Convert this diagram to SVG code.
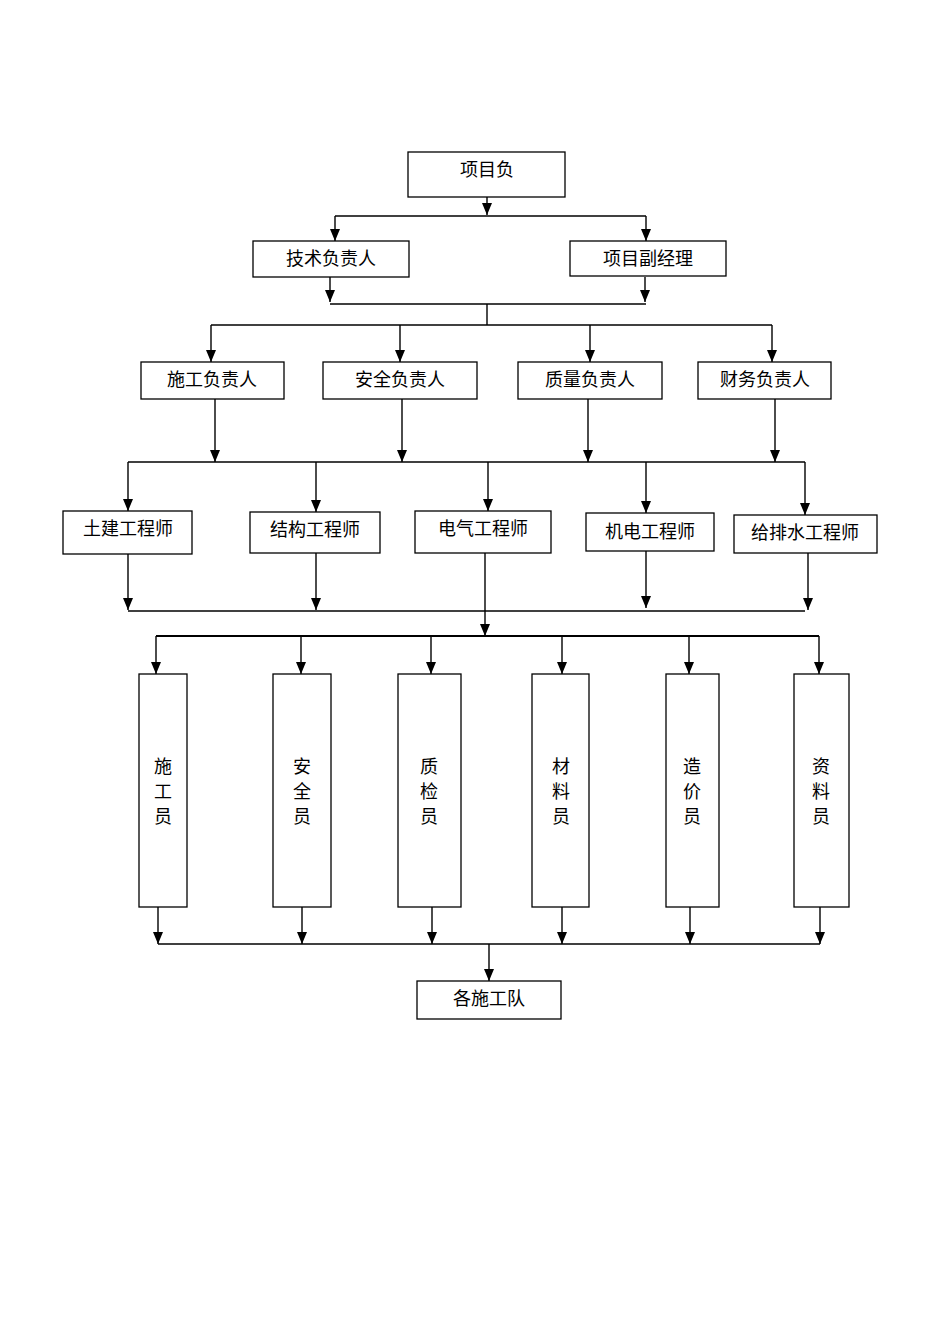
<svg xmlns="http://www.w3.org/2000/svg" width="950" height="1344" viewBox="0 0 950 1344">
<style>
rect{fill:#fff;stroke:#000;stroke-width:1.3}
text{font-family:"Liberation Serif","Noto Sans CJK SC",serif;font-size:18px;text-anchor:middle;fill:#000}
.c line,.c path{stroke:#000;stroke-width:1.4;fill:none}
</style>
<defs><marker id="a" markerWidth="12" markerHeight="10" refX="12" refY="5" orient="auto" markerUnits="userSpaceOnUse" viewBox="0 0 12 10"><path d="M0,0L12,5L0,10z" fill="#000"/></marker></defs>
<rect width="950" height="1344" style="stroke:none"/>
<g class="c">
<line x1="487" y1="197" x2="487" y2="215" marker-end="url(#a)"/>
<line x1="335" y1="216" x2="646" y2="216"/>
<line x1="335" y1="216" x2="335" y2="241" marker-end="url(#a)"/>
<line x1="646" y1="216" x2="646" y2="241" marker-end="url(#a)"/>
<line x1="330" y1="277" x2="330" y2="302" marker-end="url(#a)"/>
<line x1="645" y1="277" x2="645" y2="302" marker-end="url(#a)"/>
<line x1="330" y1="304" x2="646" y2="304"/>
<line x1="487" y1="304" x2="487" y2="325"/>
<line x1="211" y1="325" x2="772" y2="325"/>
<line x1="211" y1="325" x2="211" y2="362" marker-end="url(#a)"/>
<line x1="400" y1="325" x2="400" y2="362" marker-end="url(#a)"/>
<line x1="590" y1="325" x2="590" y2="362" marker-end="url(#a)"/>
<line x1="772" y1="325" x2="772" y2="362" marker-end="url(#a)"/>
<line x1="215" y1="399" x2="215" y2="462" marker-end="url(#a)"/>
<line x1="402" y1="399" x2="402" y2="462" marker-end="url(#a)"/>
<line x1="588" y1="399" x2="588" y2="462" marker-end="url(#a)"/>
<line x1="775" y1="399" x2="775" y2="462" marker-end="url(#a)"/>
<line x1="128" y1="462" x2="805" y2="462"/>
<line x1="128" y1="462" x2="128" y2="511" marker-end="url(#a)"/>
<line x1="316" y1="462" x2="316" y2="512" marker-end="url(#a)"/>
<line x1="488" y1="462" x2="488" y2="511" marker-end="url(#a)"/>
<line x1="646" y1="462" x2="646" y2="513" marker-end="url(#a)"/>
<line x1="805" y1="462" x2="805" y2="515" marker-end="url(#a)"/>
<line x1="128" y1="554" x2="128" y2="610" marker-end="url(#a)"/>
<line x1="316" y1="553" x2="316" y2="610" marker-end="url(#a)"/>
<line x1="646" y1="551" x2="646" y2="608" marker-end="url(#a)"/>
<line x1="808" y1="553" x2="808" y2="610" marker-end="url(#a)"/>
<line x1="128" y1="611" x2="805" y2="611"/>
<line x1="485" y1="553" x2="485" y2="636" marker-end="url(#a)"/>
<line x1="156" y1="636" x2="819" y2="636" style="stroke-width:2"/>
<line x1="156" y1="636" x2="156" y2="674" marker-end="url(#a)"/>
<line x1="301" y1="636" x2="301" y2="674" marker-end="url(#a)"/>
<line x1="431" y1="636" x2="431" y2="674" marker-end="url(#a)"/>
<line x1="562" y1="636" x2="562" y2="674" marker-end="url(#a)"/>
<line x1="689" y1="636" x2="689" y2="674" marker-end="url(#a)"/>
<line x1="819" y1="636" x2="819" y2="674" marker-end="url(#a)"/>
<line x1="158" y1="907" x2="158" y2="944" marker-end="url(#a)"/>
<line x1="302" y1="907" x2="302" y2="944" marker-end="url(#a)"/>
<line x1="432" y1="907" x2="432" y2="944" marker-end="url(#a)"/>
<line x1="562" y1="907" x2="562" y2="944" marker-end="url(#a)"/>
<line x1="690" y1="907" x2="690" y2="944" marker-end="url(#a)"/>
<line x1="820" y1="907" x2="820" y2="944" marker-end="url(#a)"/>
<line x1="158" y1="944" x2="820" y2="944"/>
<line x1="489" y1="944" x2="489" y2="981" marker-end="url(#a)"/>
</g>
<g id="n1"><rect x="408" y="152" width="157" height="45"/><text x="487" y="176">项目负</text></g>
<g id="n2"><rect x="253" y="241" width="156" height="36"/><text x="331" y="265">技术负责人</text></g>
<g id="n3"><rect x="570" y="241" width="156" height="35"/><text x="648" y="265">项目副经理</text></g>
<g id="n4"><rect x="141" y="362" width="143" height="37"/><text x="212" y="386">施工负责人</text></g>
<g id="n5"><rect x="323" y="362" width="154" height="37"/><text x="400" y="386">安全负责人</text></g>
<g id="n6"><rect x="518" y="362" width="144" height="37"/><text x="590" y="386">质量负责人</text></g>
<g id="n7"><rect x="698" y="362" width="133" height="37"/><text x="765" y="386">财务负责人</text></g>
<g id="n8"><rect x="63" y="511" width="129" height="43"/><text x="128" y="535">土建工程师</text></g>
<g id="n9"><rect x="250" y="512" width="130" height="41"/><text x="315" y="536">结构工程师</text></g>
<g id="n10"><rect x="415" y="511" width="136" height="42"/><text x="483" y="535">电气工程师</text></g>
<g id="n11"><rect x="586" y="513" width="128" height="38"/><text x="650" y="538">机电工程师</text></g>
<g id="n12"><rect x="734" y="515" width="143" height="38"/><text x="805" y="539">给排水工程师</text></g>
<g id="n13"><rect x="139" y="674" width="48" height="233"/><text x="163" y="773">施</text><text x="163" y="798">工</text><text x="163" y="823">员</text></g>
<g id="n14"><rect x="273" y="674" width="58" height="233"/><text x="302" y="773">安</text><text x="302" y="798">全</text><text x="302" y="823">员</text></g>
<g id="n15"><rect x="398" y="674" width="63" height="233"/><text x="429" y="773">质</text><text x="429" y="798">检</text><text x="429" y="823">员</text></g>
<g id="n16"><rect x="532" y="674" width="57" height="233"/><text x="561" y="773">材</text><text x="561" y="798">料</text><text x="561" y="823">员</text></g>
<g id="n17"><rect x="666" y="674" width="53" height="233"/><text x="692" y="773">造</text><text x="692" y="798">价</text><text x="692" y="823">员</text></g>
<g id="n18"><rect x="794" y="674" width="55" height="233"/><text x="821" y="773">资</text><text x="821" y="798">料</text><text x="821" y="823">员</text></g>
<g id="n19"><rect x="417" y="981" width="144" height="38"/><text x="489" y="1005">各施工队</text></g>
</svg>
